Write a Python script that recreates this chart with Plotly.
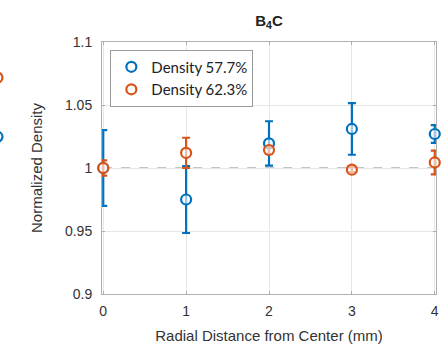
import plotly.graph_objects as go

# Radial positions (mm)
radial_mm = [0, 1, 2, 3, 4]

# Normalized density and uncertainty, 57.7% sample
dens_577 = [1.000, 0.975, 1.0195, 1.031, 1.027]
err_577 = [0.030, 0.0266, 0.0176, 0.0205, 0.007]

# Normalized density and uncertainty, 62.3% sample
dens_623 = [1.000, 1.012, 1.0143, 0.9987, 1.0044]
err_623 = [0.006, 0.012, 0.003, 0.002, 0.0094]

y_ticks = [0.9, 0.95, 1.0, 1.05, 1.1]
y_tick_text = ["0.9", "0.95", "1", "1.05", "1.1"]

BLUE = "#0072BD"
ORANGE = "#D95319"

fig = go.Figure()


def add_series(name, y, e, color):
    fig.add_trace(go.Scatter(
        x=radial_mm, y=y, name=name, mode="markers", cliponaxis=False,
        marker=dict(symbol="circle", size=10, color="rgba(255,255,255,0.6)",
                    line=dict(color=color, width=2.2)),
        error_y=dict(type="data", array=e, visible=True, color=color,
                     thickness=2.2, width=4),
    ))


add_series("Density 57.7%", dens_577, err_577, BLUE)
add_series("Density 62.3%", dens_623, err_623, ORANGE)

# Reference line at unity
fig.add_shape(type="line", xref="x", yref="y", x0=0, x1=4, y0=1, y1=1,
              line=dict(color="#8a8a8a", width=1.2, dash="dash"), layer="below")

# Edge of the neighbouring panel, cut off by the page border
fig.add_shape(type="circle", xref="paper", yref="paper",
              x0=-0.328, x1=-0.298, y0=0.839, y1=0.879,
              line=dict(color=ORANGE, width=2.2))
fig.add_shape(type="circle", xref="paper", yref="paper",
              x0=-0.328, x1=-0.298, y0=0.604, y1=0.644,
              line=dict(color=BLUE, width=2.2))

axis_font = dict(family="Liberation Sans, Arial, sans-serif", size=15, color="#333333")
tick_font = dict(family="Liberation Sans, Arial, sans-serif", size=14, color="#333333")

fig.update_layout(
    width=447, height=349,
    margin=dict(l=102, r=8, t=42, b=52),
    paper_bgcolor="white", plot_bgcolor="white",
    title=dict(text="<b>B<sub>4</sub>C</b>", x=0.5, xanchor="center",
               xref="paper", y=0.94, yanchor="middle",
               font=dict(family="Liberation Sans, Arial, sans-serif", size=15, color="#222222")),
    showlegend=True,
    legend=dict(x=0.025, y=0.97, xanchor="left", yanchor="top",
                bgcolor="white", bordercolor="#9a9a9a", borderwidth=1,
                font=dict(family="Lato, sans-serif", size=15, color="#222222"),
                itemwidth=30, tracegroupgap=0),
    xaxis=dict(range=[-0.015, 4.015], tickvals=[0, 1, 2, 3, 4], showgrid=True,
               gridcolor="#e6e6e6", zeroline=False, showline=True,
               linecolor="#b0b0b0", mirror="ticks", ticks="inside", ticklen=3,
               tickcolor="#b0b0b0", tickfont=tick_font, ticklabelstandoff=4,
               layer="below traces",
               title=dict(text="Radial Distance from Center (mm)", font=axis_font, standoff=12)),
    yaxis=dict(range=[0.9, 1.1], tickvals=y_ticks, ticktext=y_tick_text,
               showgrid=True, gridcolor="#e6e6e6", zeroline=False, showline=True,
               linecolor="#b0b0b0", mirror="ticks", ticks="inside", ticklen=3,
               tickcolor="#b0b0b0", tickfont=tick_font, ticklabelstandoff=6,
               layer="below traces",
               title=dict(text="Normalized Density", font=axis_font, standoff=18)),
)

fig.write_html("out.html")
